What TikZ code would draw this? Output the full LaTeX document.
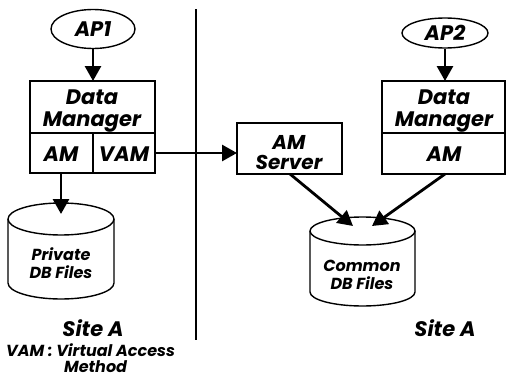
\documentclass[tikz,border=0pt]{standalone}
\usepackage{fontspec}
\setmainfont{Poppins}
\usetikzlibrary{arrows.meta,shapes.geometric}
\begin{document}
\begin{tikzpicture}[x=1pt,y=-1pt,
  txt/.style={font=\bfseries\itshape, inner sep=0pt, align=center},
  box/.style={draw, line width=1.8pt},
  ap/.style={draw, ellipse, line width=1.4pt, inner sep=0pt, font=\bfseries\itshape\fontsize{21}{21}\selectfont},
  arr/.style={line width=2.8pt, -{Triangle[length=15pt,width=16pt]}},
  cyl/.style={line width=1.4pt}]
\useasboundingbox (0,0) rectangle (506,380);

% separator
\draw[line width=1.1pt, dash pattern=on 2.5pt off 0.5pt] (196,9) -- (196,340);

% ---- left site
\node[ap, minimum width=84pt, minimum height=39pt] (ap1) at (93,29) {AP1};
\draw[box] (30,81) rectangle (155,173);
\draw[box] (30,133) -- (155,133);
\draw[box] (93,133) -- (93,173);
\node[txt, font=\bfseries\itshape\fontsize{21}{22}\selectfont] (dm1) at (92,111) {Data\\Manager};
\node[txt, font=\bfseries\itshape\fontsize{21}{21}\selectfont] (am1) at (61,154) {AM};
\node[txt, font=\bfseries\itshape\fontsize{21}{21}\selectfont] (vam) at (124,154) {VAM};
\coordinate (dm1top) at (93,81);
\coordinate (am1bot) at (61,173);
\coordinate (vamR) at (155,153);

% private cylinder
\draw[cyl] (61,219) ellipse [x radius=53, y radius=16];
\draw[cyl] (8,219) -- (8,283) arc[start angle=180, end angle=0, x radius=53, y radius=16] -- (114,219);
\node[txt, font=\bfseries\itshape\fontsize{16}{18}\selectfont] (priv) at (61,263) {Private\\DB Files};
\coordinate (privtop) at (61,214);

\node[txt, font=\bfseries\itshape\fontsize{21}{21}\selectfont] (siteL) at (93,328) {Site A};
\node[txt, font=\bfseries\itshape\fontsize{16}{16}\selectfont, align=left, anchor=base west] (legend) at (6,372) {VAM : Virtual Access\\\hspace*{58pt}Method};

% ---- right site
\node[ap, minimum width=86pt, minimum height=30pt] (ap2) at (445,33) {AP2};
\draw[box] (382,81) rectangle (505,174);
\draw[box] (382,133) -- (505,133);
\node[txt, font=\bfseries\itshape\fontsize{21}{22}\selectfont] (dm2) at (444,111) {Data\\Manager};
\node[txt, font=\bfseries\itshape\fontsize{21}{21}\selectfont] (am2) at (444,154) {AM};
\coordinate (dm2top) at (445,81);
\coordinate (am2bot) at (445,174);

\draw[box] (237,123) rectangle (342,174);
\node[txt, font=\bfseries\itshape\fontsize{20}{20}\selectfont] (amsrv) at (289,153) {AM\\Server};
\coordinate (amsrvL) at (237,153);
\coordinate (amsrvB) at (290,174);

% common cylinder
\draw[cyl] (362.5,231) ellipse [x radius=52.5, y radius=14];
\draw[cyl] (310,231) -- (310,292) arc[start angle=180, end angle=0, x radius=52.5, y radius=14] -- (415,231);
\node[txt, font=\bfseries\itshape\fontsize{16}{18}\selectfont] (comm) at (362,275) {Common\\DB Files};
\coordinate (commL) at (353,226);
\coordinate (commR) at (372,226);

\node[txt, font=\bfseries\itshape\fontsize{21}{21}\selectfont] (siteR) at (445,328) {Site A};

% ---- arrows
\draw[arr] (ap1) -- (dm1top);
\draw[arr] (am1bot) -- (privtop);
\draw[arr] (vamR) -- (amsrvL);
\draw[arr] (ap2) -- (dm2top);
\draw[arr] (amsrvB) -- (commL);
\draw[arr] (am2bot) -- (commR);
\end{tikzpicture}
\end{document}
